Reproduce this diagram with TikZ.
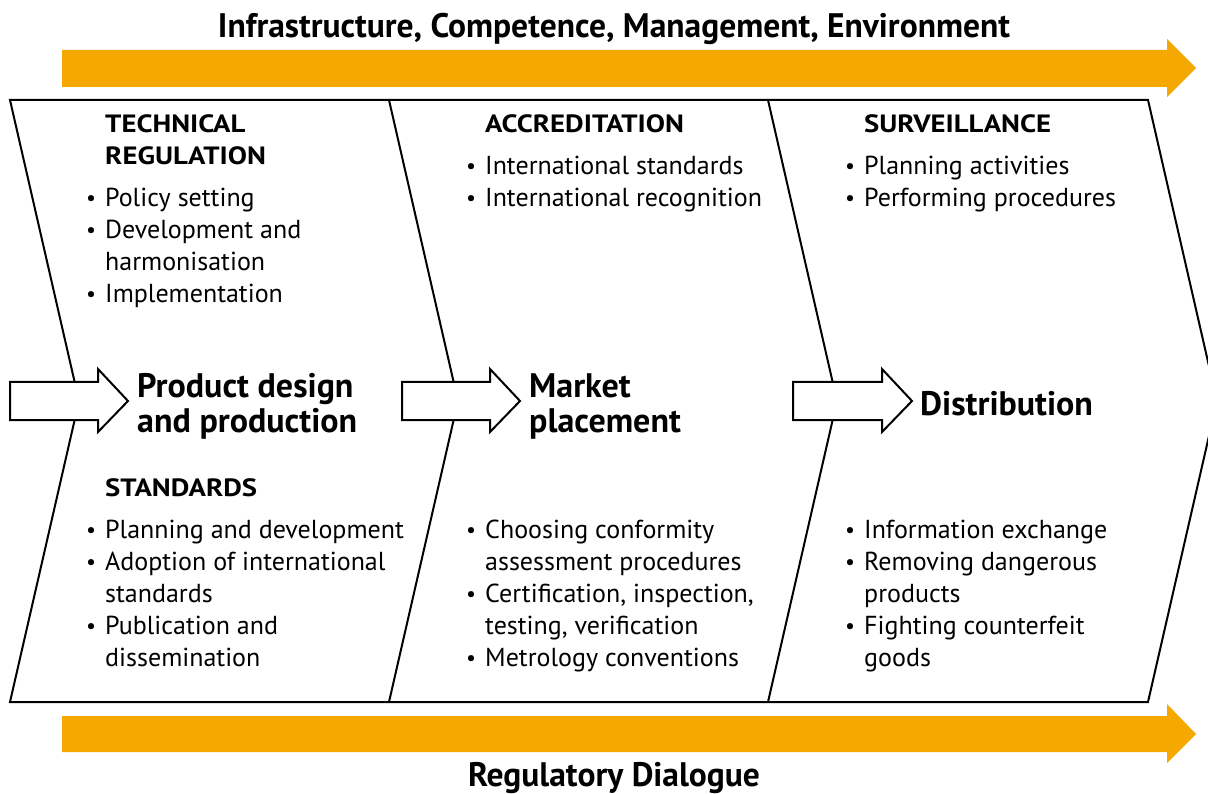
\documentclass[tikz,border=0pt]{standalone}
\usepackage{fontspec}
\setmainfont{PT Sans}
\newfontfamily\headfont{PT Sans}[FakeStretch=1.15]
\usepackage{graphicx}
\definecolor{barorange}{RGB}{245,168,0}
\newcommand\bul{\llap{\raisebox{1pt}{\scalebox{0.85}{•}}\hspace{9pt}}}
\begin{document}
\begin{tikzpicture}[x=1pt,y=-1pt,
  body/.style={anchor=base west, inner sep=0pt, font=\fontsize{26}{32}\selectfont},
  head/.style={anchor=base west, inner sep=0pt, font=\headfont\bfseries\fontsize{25}{32}\selectfont},
  big/.style={anchor=base west, inner sep=0pt, font=\bfseries\fontsize{34}{35}\selectfont},
  banner/.style={anchor=base, inner sep=0pt, font=\bfseries\fontsize{34}{40}\selectfont},
  outline/.style={draw=black, line width=2pt, line join=miter},
  whitearrow/.style={draw=black, fill=white, line width=2pt, line join=miter},
  orangearrow/.style={fill=barorange}]
\useasboundingbox (0,0) rectangle (1208,794);
\fill[white] (0,0) rectangle (1208,794);

% orange bars
\path[orangearrow] (62,50) -- (1167,50) -- (1167,39) -- (1196,68) -- (1167,97) -- (1167,87) -- (62,87) -- cycle;
\path[orangearrow] (62,716) -- (1167,716) -- (1167,704) -- (1196,734) -- (1167,763) -- (1167,752) -- (62,752) -- cycle;

% chevron outline and dividers
\draw[outline] (10,100) -- (1148,100) -- (1217,401) -- (1148,702) -- (10,702) -- (79,401) -- cycle;
\draw[outline] (389,100) -- (458,401) -- (389,702);
\draw[outline] (768,100) -- (837,401) -- (768,702);

% white arrows
\draw[whitearrow] (10,382) -- (98,382) -- (98,369) -- (128,401) -- (98,432) -- (98,420) -- (10,420) -- cycle;
\draw[whitearrow] (402,382) -- (490,382) -- (490,369) -- (520,401) -- (490,432) -- (490,420) -- (402,420) -- cycle;
\draw[whitearrow] (793,382) -- (882,382) -- (882,369) -- (912,401) -- (882,432) -- (882,420) -- (793,420) -- cycle;

% banners
\node[banner] (top) at (614,38) {\resizebox{792pt}{\height}{Infrastructure, Competence, Management, Environment}};
\node[banner] (bottom) at (614,786) {\resizebox{292pt}{\height}{Regulatory Dialogue}};

% big labels
\node[big] (pd1) at (137,397) {Product design};
\node[big] (pd2) at (137,432) {and production};
\node[big] (mp1) at (529,397) {Market};
\node[big] (mp2) at (529,432) {placement};
\node[big] (ds1) at (920,415) {Distribution};

% column 1 top
\node[head] (c1h1) at (105,133) {TECHNICAL};
\node[head] (c1h2) at (105,165) {REGULATION};
\node[body] (c1a) at (105,207) {\bul Policy setting};
\node[body] (c1b) at (105,239) {\bul Development and};
\node[body] (c1c) at (105,271) {harmonisation};
\node[body] (c1d) at (105,303) {\bul Implementation};
% column 2 top
\node[head] (c2h) at (485,133) {ACCREDITATION};
\node[body] (c2a) at (485,175) {\bul International standards};
\node[body] (c2b) at (485,207) {\bul International recognition};
% column 3 top
\node[head] (c3h) at (864,133) {SURVEILLANCE};
\node[body] (c3a) at (864,175) {\bul Planning activities};
\node[body] (c3b) at (864,207) {\bul Performing procedures};

% column 1 bottom
\node[head] (c1s) at (105,496) {STANDARDS};
\node[body] (c1e) at (105,538) {\bul Planning and development};
\node[body] (c1f) at (105,570) {\bul Adoption of international};
\node[body] (c1g) at (105,602) {standards};
\node[body] (c1h) at (105,634) {\bul Publication and};
\node[body] (c1i) at (105,666) {dissemination};
% column 2 bottom
\node[body] (c2c) at (485,538) {\bul Choosing conformity};
\node[body] (c2d) at (485,570) {assessment procedures};
\node[body] (c2e) at (485,602) {\bul Certification, inspection,};
\node[body] (c2f) at (485,634) {testing, verification};
\node[body] (c2g) at (485,666) {\bul Metrology conventions};
% column 3 bottom
\node[body] (c3c) at (864,538) {\bul Information exchange};
\node[body] (c3d) at (864,570) {\bul Removing dangerous};
\node[body] (c3e) at (864,602) {products};
\node[body] (c3f) at (864,634) {\bul Fighting counterfeit};
\node[body] (c3g) at (864,666) {goods};
\end{tikzpicture}
\end{document}
